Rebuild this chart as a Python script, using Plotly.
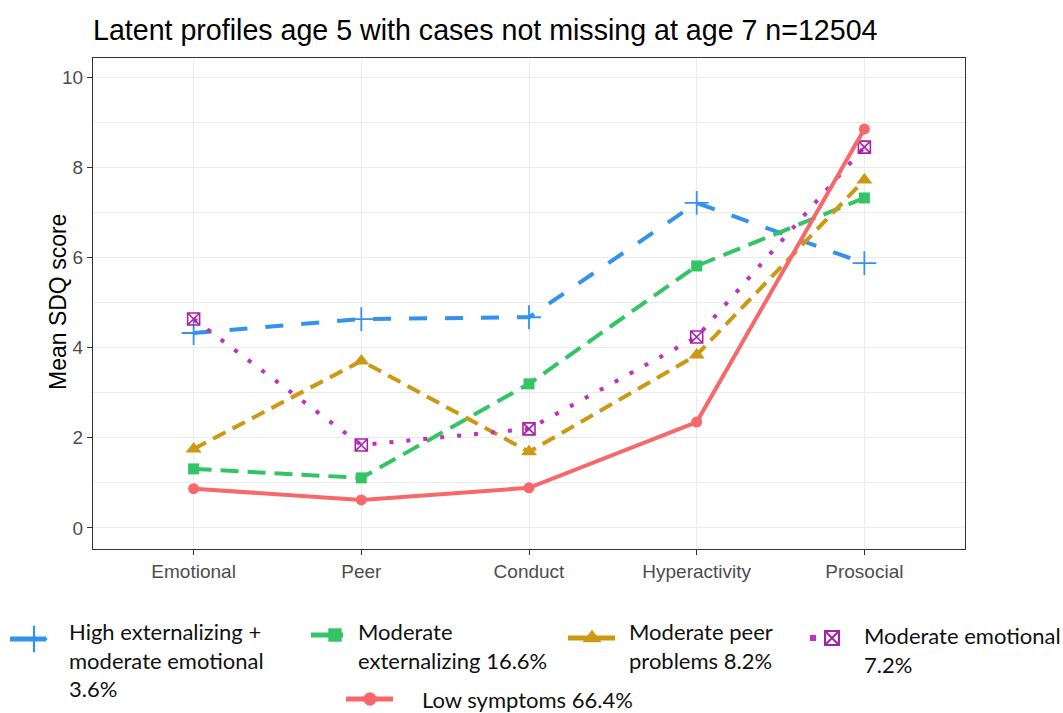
import plotly.graph_objects as go

W, H = 1063, 713

domains = ["Emotional", "Peer", "Conduct", "Hyperactivity", "Prosocial"]

high_ext = [4.33, 4.64, 4.68, 7.22, 5.88]
mod_ext = [1.31, 1.11, 3.20, 5.82, 7.33]
mod_peer = [1.75, 3.71, 1.69, 3.84, 7.73]
mod_emo = [4.64, 1.84, 2.20, 4.24, 8.46]
low_sym = [0.87, 0.62, 0.89, 2.35, 8.86]

y_ticks = [0, 2, 4, 6, 8, 10]

BLUE = "#3392EC"
GREEN = "#33C466"
GOLD = "#CC9914"
PURPLE = "#C030C0"
PURPLE_M = "#A820A8"
RED = "#F8686A"

# (values, colour, marker colour, dash, symbol, size, marker line width)
series = [
    (high_ext, BLUE, BLUE, "18px,18px", "cross-thin-open", 17, 1.8),
    (mod_ext, GREEN, GREEN, "18px,9px", "square", 11, 0),
    (mod_peer, GOLD, GOLD, "14px,8px", "triangle-up", 14, 0),
    (mod_emo, PURPLE, PURPLE_M, "4px,13px", "square-x-open", 12, 1.6),
    (low_sym, RED, RED, "solid", "circle", 11, 0),
]

fig = go.Figure()

for vals, col, mcol, dash, sym, size, mlw in series:
    fig.add_trace(go.Scatter(
        x=domains, y=vals, mode="lines+markers",
        line=dict(color=col, width=4, dash=dash),
        marker=dict(symbol=sym, size=size, color=mcol,
                    line=dict(color=mcol, width=mlw)),
        showlegend=False, xaxis="x", yaxis="y",
    ))

# hand-drawn legend underneath (pixel space axis covering bottom strip)
legend_keys = [
    # line x0, x1, marker x, y, series index
    (10, 46, 34, 639, 0),
    (311, 343, 335, 635, 1),
    (568, 615, 592, 638, 2),
    (813, 820, 832, 638, 3),
    (346, 393, 370, 699, 4),
]
for x0, x1, xm, yk, i in legend_keys:
    vals, col, mcol, dash, sym, size, mlw = series[i]
    if i == 3:
        fig.add_trace(go.Scatter(
            x=[x0], y=[yk], mode="markers",
            marker=dict(symbol="square", size=6, color=PURPLE),
            showlegend=False, xaxis="x2", yaxis="y2", hoverinfo="skip"))
    else:
        fig.add_trace(go.Scatter(
            x=[x0, x1], y=[yk, yk], mode="lines",
            line=dict(color=col, width=5),
            showlegend=False, xaxis="x2", yaxis="y2", hoverinfo="skip"))
    fig.add_trace(go.Scatter(
        x=[xm], y=[yk], mode="markers",
        marker=dict(symbol=sym, size=size + 2, color=mcol,
                    line=dict(color=mcol, width=mlw + 0.4)),
        showlegend=False, xaxis="x2", yaxis="y2", hoverinfo="skip"))

legend_text = [
    (67, 632, "High externalizing +<br>moderate emotional<br>3.6%"),
    (356, 632, "Moderate<br>externalizing 16.6%"),
    (627, 632, "Moderate peer<br>problems 8.2%"),
    (862, 636, "Moderate emotional<br>7.2%"),
    (420, 700, "Low symptoms 66.4%"),
]
for lx, ly, txt in legend_text:
    fig.add_annotation(
        x=lx, y=ly - 16, xref="x2", yref="y2", text=txt, showarrow=False,
        xanchor="left", yanchor="top", align="left",
        font=dict(family="Lato, Open Sans, sans-serif", size=22, color="#111111"),
    )

fig.add_annotation(
    x=91 / W, y=1 - 30 / H, xref="paper", yref="paper",
    text="Latent profiles age 5 with cases not missing at age 7 n=12504",
    showarrow=False, xanchor="left", yanchor="middle",
    font=dict(family="Liberation Sans, Arial, sans-serif", size=28.6, color="black"),
)

fig.add_annotation(
    x=43 / W, y=1 - 302 / H, xref="paper", yref="paper",
    text="Mean SDQ score", textangle=-90, showarrow=False,
    font=dict(family="Liberation Sans, Arial, sans-serif", size=23, color="black"),
)

grid = "#EBEBEB"
tickfont = dict(family="Liberation Sans, Arial, sans-serif", size=19, color="#4D4D4D")
fig.update_layout(
    width=W, height=H,
    margin=dict(l=0, r=0, t=0, b=0),
    paper_bgcolor="white", plot_bgcolor="white",
    xaxis=dict(
        domain=[93 / W, 965 / W], range=[-0.6, 4.6],
        showline=True, linecolor="#333333", linewidth=1.3, mirror=True,
        showgrid=True, gridcolor=grid, gridwidth=1.3,
        ticks="outside", ticklen=5, tickcolor="#333333",
        tickfont=tickfont, zeroline=False, anchor="y",
    ),
    yaxis=dict(
        domain=[1 - 549 / H, 1 - 58 / H], range=[-0.47, 10.44],
        tickvals=y_ticks,
        showline=True, linecolor="#333333", linewidth=1.3, mirror=True,
        showgrid=True, gridcolor=grid, gridwidth=1.3,
        minor=dict(dtick=1, tick0=1, showgrid=True, gridcolor=grid, gridwidth=0.9),
        ticks="outside", ticklen=5, tickcolor="#333333",
        tickfont=tickfont, zeroline=False, anchor="x",
    ),
    xaxis2=dict(domain=[0, 1], range=[0, W], visible=False, anchor="y2", fixedrange=True),
    yaxis2=dict(domain=[0, 116 / H], range=[H, H - 116], visible=False, anchor="x2", fixedrange=True),
)

# the page's default body margin would push the figure 8px off; drop it
fig.write_html("out.html", config={"displayModeBar": False},
               post_script="document.body.style.margin='0';")
